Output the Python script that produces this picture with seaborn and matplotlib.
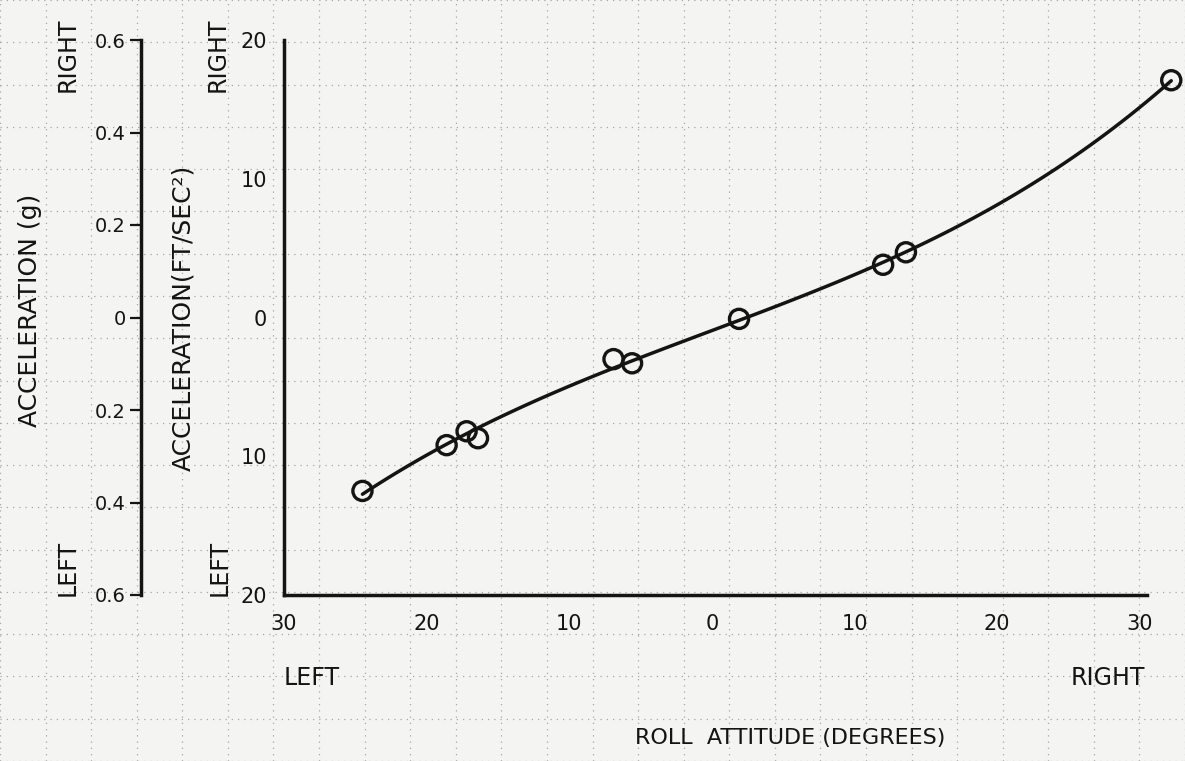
import matplotlib
matplotlib.use("Agg")
import matplotlib.pyplot as plt
import seaborn as sns
import pandas as pd
import numpy as np

# values (roll attitude in deg, lateral accel in ft/sec^2)
roll_deg = [-24.5, -18.6, -17.2, -16.4, -6.9, -5.6, 1.9, 12.0, 13.6, 32.2]
accel_fps2 = [-12.5, -9.2, -8.2, -8.7, -3.0, -3.3, -0.1, 3.8, 4.7, 17.1]

x_ticks = [-30, -20, -10, 0, 10, 20, 30]
x_tick_labels = ["30", "20", "10", "0", "10", "20", "30"]
y_ticks = [-20, -10, 0, 10, 20]
y_tick_labels = ["20", "10", "0", "10", "20"]
g_ticks = [-0.6, -0.4, -0.2, 0, 0.2, 0.4, 0.6]
g_tick_labels = ["0.6", "0.4", "0.2", "0", "0.2", "0.4", "0.6"]

df = pd.DataFrame({"roll": roll_deg, "accel": accel_fps2})

sns.set_theme(style="white")
plt.rcParams["font.family"] = ["DejaVu Sans"]
ink = "#141414"
paper = "#f4f4f2"

W, H = 1185, 761
fig = plt.figure(figsize=(W / 100, H / 100), dpi=100, facecolor=paper)

# graph paper in the background
bg = fig.add_axes([0, 0, 1, 1], zorder=-5)
bg.set_facecolor(paper)
bg.set_xlim(0, 1)
bg.set_ylim(0, 1)
bg.set_xticks(np.linspace(0, 1, 27))
bg.set_yticks(np.linspace(0, 1, 19))
bg.grid(True, color="#a8a8a8", linestyle=(0, (1, 4)), linewidth=0.9)
bg.tick_params(length=0, labelbottom=False, labelleft=False)
for s in bg.spines.values():
    s.set_visible(False)

# main axes (ft/sec^2)
left, right, top, bottom = 284, 1147, 40, 595
ax = fig.add_axes([left / W, 1 - bottom / H, (right - left) / W, (bottom - top) / H])
ax.set_facecolor("none")

sns.regplot(data=df, x="roll", y="accel", order=3, ci=None, truncate=True,
            scatter=False, color=ink, ax=ax,
            line_kws=dict(lw=2.5, clip_on=False, solid_capstyle="round"))
sns.scatterplot(data=df, x="roll", y="accel", ax=ax, s=190, marker="o",
                facecolor="none", edgecolor=ink, linewidth=2.4,
                clip_on=False, zorder=4)

ax.set_xlim(-30, 30.5)
ax.set_ylim(-20, 20)
ax.set_xticks(x_ticks, x_tick_labels)
ax.set_yticks(y_ticks, y_tick_labels)
ax.tick_params(length=0, labelsize=15, colors=ink)
ax.tick_params(axis="x", pad=14)
ax.tick_params(axis="y", pad=12)
for side in ["top", "right"]:
    ax.spines[side].set_visible(False)
for side in ["left", "bottom"]:
    ax.spines[side].set_color(ink)
    ax.spines[side].set_linewidth(2.5)

ax.set_ylabel("ACCELERATION(FT/SEC²)", fontsize=18, color=ink, va="center")
ax.yaxis.set_label_coords(-0.117, 0.5)
ax.set_xlabel("ROLL  ATTITUDE (DEGREES)", fontsize=16, color=ink, va="center")
ax.xaxis.set_label_coords(0.586, -0.258)

# secondary scale in g on the far left
gax = fig.add_axes([141 / W, 1 - bottom / H, 0.0005, (bottom - top) / H])
gax.set_facecolor("none")
gax.set_ylim(-0.6, 0.6)
gax.set_yticks(g_ticks, g_tick_labels)
gax.set_xticks([])
gax.tick_params(axis="y", left=True, length=8, width=1.6, pad=3, labelsize=14, colors=ink)
for side in ["top", "right", "bottom"]:
    gax.spines[side].set_visible(False)
gax.spines["left"].set_color(ink)
gax.spines["left"].set_linewidth(2.5)

txt = dict(color=ink, ha="center", va="center")
fig.text(30 / W, 1 - 310 / H, "ACCELERATION (g)", rotation=90, fontsize=18, **txt)
fig.text(68 / W, 1 - 55 / H, "RIGHT", rotation=90, fontsize=17, **txt)
fig.text(68 / W, 1 - 568 / H, "LEFT", rotation=90, fontsize=17, **txt)
fig.text(218 / W, 1 - 55 / H, "RIGHT", rotation=90, fontsize=17, **txt)
fig.text(220 / W, 1 - 568 / H, "LEFT", rotation=90, fontsize=17, **txt)
fig.text(312 / W, 1 - 678 / H, "LEFT", fontsize=17, **txt)
fig.text(1108 / W, 1 - 678 / H, "RIGHT", fontsize=17, **txt)

fig.savefig("out.png", dpi=100, facecolor=paper)
